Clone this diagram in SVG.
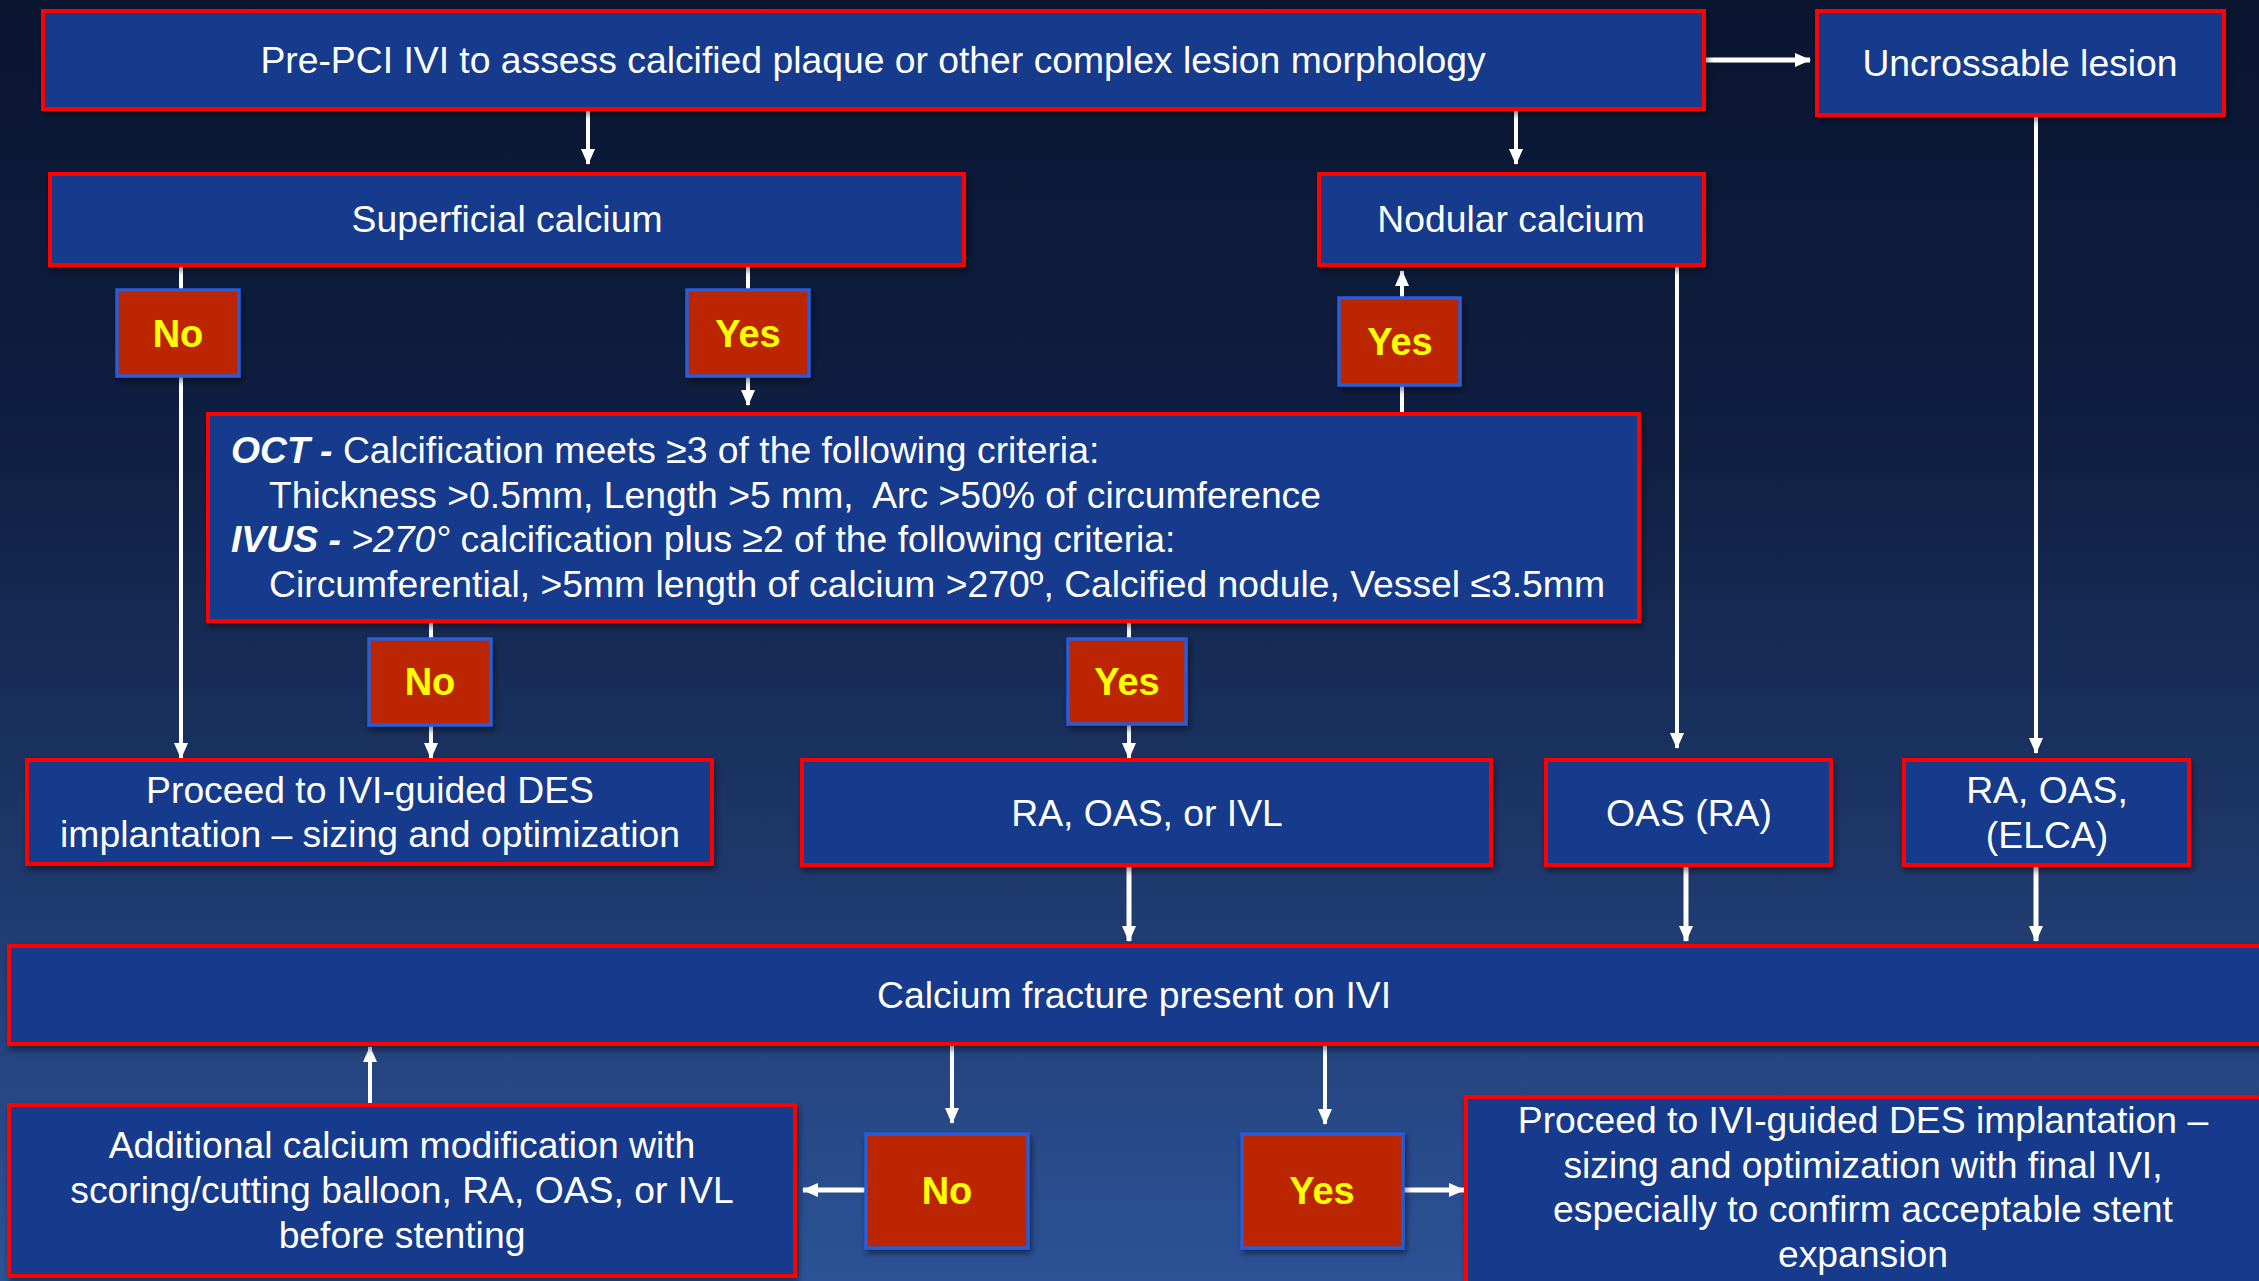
<svg xmlns="http://www.w3.org/2000/svg" width="2259" height="1281" viewBox="0 0 2259 1281">
<defs>
<linearGradient id="bg" x1="0" y1="0" x2="0" y2="1">
<stop offset="0" stop-color="#0a1530"/>
<stop offset="0.35" stop-color="#0f1f42"/>
<stop offset="0.7" stop-color="#1f3a6e"/>
<stop offset="1" stop-color="#2c5397"/>
</linearGradient>
<filter id="sh" x="-10%" y="-10%" width="120%" height="130%">
<feDropShadow dx="2" dy="4" stdDeviation="3" flood-color="#000" flood-opacity="0.45"/>
</filter>
<marker id="ah" markerUnits="userSpaceOnUse" markerWidth="16" markerHeight="16" viewBox="0 0 16 16" refX="15" refY="8" orient="auto">
<path d="M0,1 L16,8 L0,15 Z" fill="#ffffff"/>
</marker>
</defs>
<style>
.box{fill:#193b8c;stroke:#ff0000;stroke-width:4;filter:url(#sh)}
.yn{fill:#bb2600;stroke:#2a5bd8;stroke-width:3.5;filter:url(#sh)}
.t{font-family:"Liberation Sans",Arial,sans-serif;font-size:37.3px;fill:#ffffff}
.c{text-anchor:middle}
.ynt{font-family:"Liberation Sans",Arial,sans-serif;font-size:38px;font-weight:bold;fill:#ffff00;text-anchor:middle}
.ln{stroke:#ffffff;stroke-width:4;fill:none}
.la{stroke:#ffffff;stroke-width:4;fill:none;marker-end:url(#ah)}
</style>
<rect x="0" y="0" width="2259" height="1281" fill="url(#bg)"/>

<g id="connectors">
<line class="la" x1="588" y1="109" x2="588" y2="164"/>
<line class="la" x1="1516" y1="109" x2="1516" y2="164"/>
<line class="la" x1="1704" y1="60" x2="1810" y2="60" style="stroke-width:5"/>
<line class="la" x1="181" y1="265" x2="181" y2="758"/>
<line class="ln" x1="748" y1="265" x2="748" y2="290"/>
<line class="la" x1="748" y1="376" x2="748" y2="405"/>
<line class="ln" x1="1402" y1="413" x2="1402" y2="385"/>
<line class="la" x1="1402" y1="298" x2="1402" y2="271"/>
<line class="ln" x1="431" y1="621" x2="431" y2="638"/>
<line class="la" x1="431" y1="725" x2="431" y2="758"/>
<line class="ln" x1="1129" y1="621" x2="1129" y2="639"/>
<line class="la" x1="1129" y1="724" x2="1129" y2="758"/>
<line class="la" x1="1677" y1="265" x2="1677" y2="748"/>
<line class="la" x1="2036" y1="115" x2="2036" y2="753"/>
<line class="la" x1="1129" y1="865" x2="1129" y2="941" style="stroke-width:5"/>
<line class="la" x1="1686" y1="865" x2="1686" y2="941" style="stroke-width:5"/>
<line class="la" x1="2036" y1="865" x2="2036" y2="941" style="stroke-width:5"/>
<line class="la" x1="952" y1="1044" x2="952" y2="1123"/>
<line class="la" x1="866" y1="1190" x2="803" y2="1190" style="stroke-width:5"/>
<line class="la" x1="370" y1="1103" x2="370" y2="1047"/>
<line class="la" x1="1325" y1="1044" x2="1325" y2="1124"/>
<line class="la" x1="1403" y1="1190" x2="1464" y2="1190" style="stroke-width:5"/>
</g>

<g id="n-top">
<rect class="box" x="43" y="11" width="1661" height="98"/>
<text class="t c" x="873" y="73">Pre-PCI IVI to assess calcified plaque or other complex lesion morphology</text>
</g>
<g id="n-uncrossable">
<rect class="box" x="1817" y="11" width="407" height="104"/>
<text class="t c" x="2020" y="76">Uncrossable lesion</text>
</g>
<g id="n-superficial">
<rect class="box" x="50" y="174" width="914" height="91"/>
<text class="t c" x="507" y="232">Superficial calcium</text>
</g>
<g id="n-nodular">
<rect class="box" x="1319" y="174" width="385" height="91"/>
<text class="t c" x="1511" y="232">Nodular calcium</text>
</g>
<g id="n-no1">
<rect class="yn" x="117" y="290" width="122" height="86"/>
<text class="ynt" x="178" y="347">No</text>
</g>
<g id="n-yes1">
<rect class="yn" x="687" y="290" width="122" height="86"/>
<text class="ynt" x="748" y="347">Yes</text>
</g>
<g id="n-yes-nod">
<rect class="yn" x="1339" y="298" width="121" height="87"/>
<text class="ynt" x="1400" y="355">Yes</text>
</g>
<g id="n-criteria">
<rect class="box" x="208" y="414" width="1431" height="207"/>
<text class="t" x="231" y="463"><tspan font-weight="bold" font-style="italic">OCT - </tspan>Calcification meets ≥3 of the following criteria:</text>
<text class="t" x="269" y="508" xml:space="preserve">Thickness &gt;0.5mm, Length &gt;5 mm,  Arc &gt;50% of circumference</text>
<text class="t" x="231" y="552"><tspan font-weight="bold" font-style="italic">IVUS - </tspan><tspan font-style="italic">&gt;270°</tspan> calcification plus ≥2 of the following criteria:</text>
<text class="t" x="269" y="597">Circumferential, &gt;5mm length of calcium &gt;270º, Calcified nodule, Vessel ≤3.5mm</text>
</g>
<g id="n-no2">
<rect class="yn" x="369" y="639" width="122" height="86"/>
<text class="ynt" x="430" y="695">No</text>
</g>
<g id="n-yes2">
<rect class="yn" x="1068" y="639" width="118" height="85"/>
<text class="ynt" x="1127" y="695">Yes</text>
</g>
<g id="n-proceed1">
<rect class="box" x="27" y="760" width="685" height="104"/>
<text class="t c" x="370" y="803">Proceed to IVI-guided DES</text>
<text class="t c" x="370" y="847">implantation – sizing and optimization</text>
</g>
<g id="n-raoasivl">
<rect class="box" x="802" y="760" width="689" height="105"/>
<text class="t c" x="1147" y="826">RA, OAS, or IVL</text>
</g>
<g id="n-oasra">
<rect class="box" x="1546" y="760" width="285" height="105"/>
<text class="t c" x="1689" y="826">OAS (RA)</text>
</g>
<g id="n-elca">
<rect class="box" x="1904" y="760" width="285" height="105"/>
<text class="t c" x="2047" y="803">RA, OAS,</text>
<text class="t c" x="2047" y="848">(ELCA)</text>
</g>
<g id="n-fracture">
<rect class="box" x="9" y="946" width="2262" height="98"/>
<text class="t c" x="1134" y="1008">Calcium fracture present on IVI</text>
</g>
<g id="n-additional">
<rect class="box" x="9" y="1105" width="786" height="171"/>
<text class="t c" x="402" y="1158">Additional calcium modification with</text>
<text class="t c" x="402" y="1203">scoring/cutting balloon, RA, OAS, or IVL</text>
<text class="t c" x="402" y="1248">before stenting</text>
</g>
<g id="n-no3">
<rect class="yn" x="866" y="1134" width="162" height="114"/>
<text class="ynt" x="947" y="1204">No</text>
</g>
<g id="n-yes3">
<rect class="yn" x="1242" y="1134" width="161" height="114"/>
<text class="ynt" x="1322" y="1204">Yes</text>
</g>
<g id="n-final">
<rect class="box" x="1466" y="1097" width="800" height="190"/>
<text class="t c" x="1863" y="1133">Proceed to IVI-guided DES implantation –</text>
<text class="t c" x="1863" y="1178">sizing and optimization with final IVI,</text>
<text class="t c" x="1863" y="1222">especially to confirm acceptable stent</text>
<text class="t c" x="1863" y="1267">expansion</text>
</g>
</svg>
